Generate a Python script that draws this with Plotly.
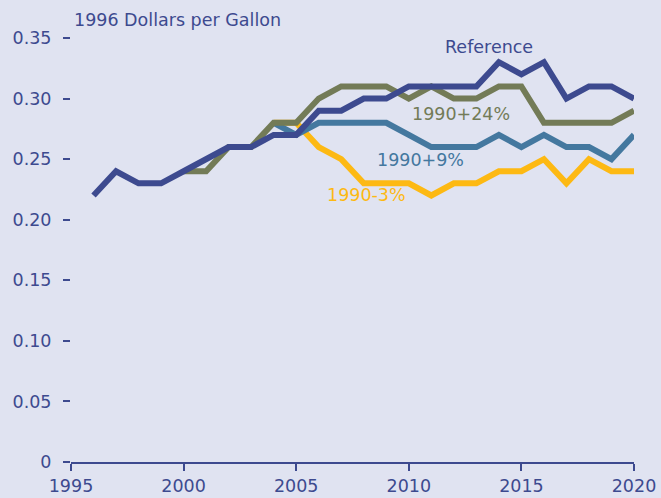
import plotly.graph_objects as go

ref_years = list(range(1996, 2021))
ref_vals = [0.22, 0.24, 0.23, 0.23, 0.24, 0.25, 0.26, 0.26, 0.27, 0.27, 0.29, 0.29, 0.30,
            0.30, 0.31, 0.31, 0.31, 0.31, 0.33, 0.32, 0.33, 0.30, 0.31, 0.31, 0.30]

p24_years = list(range(2000, 2021))
p24_vals = [0.24, 0.24, 0.26, 0.26, 0.28, 0.28, 0.30, 0.31, 0.31, 0.31, 0.30, 0.31, 0.30,
            0.30, 0.31, 0.31, 0.28, 0.28, 0.28, 0.28, 0.29]

p9_years = list(range(2004, 2021))
p9_vals = [0.28, 0.27, 0.28, 0.28, 0.28, 0.28, 0.27, 0.26, 0.26, 0.26, 0.27, 0.26, 0.27,
           0.26, 0.26, 0.25, 0.27]

m3_years = list(range(2004, 2021))
m3_vals = [0.28, 0.28, 0.26, 0.25, 0.23, 0.23, 0.23, 0.22, 0.23, 0.23, 0.24, 0.24, 0.25,
           0.23, 0.25, 0.24, 0.24]

y_ticks = [0, 0.05, 0.10, 0.15, 0.20, 0.25, 0.30, 0.35]
y_ticktext = ["0", "0.05", "0.10", "0.15", "0.20", "0.25", "0.30", "0.35"]
x_ticks = [1995, 2000, 2005, 2010, 2015, 2020]

C_REF = "#3D4A8F"
C_24 = "#737B57"
C_9 = "#44789F"
C_M3 = "#FDB913"
BG = "#E0E3F1"
FONT = "DejaVu Sans, Liberation Sans, Arial, sans-serif"
FS = 17.5

fig = go.Figure()
for xs, ys, c, name in [(m3_years, m3_vals, C_M3, "1990-3%"),
                        (p9_years, p9_vals, C_9, "1990+9%"),
                        (p24_years, p24_vals, C_24, "1990+24%"),
                        (ref_years, ref_vals, C_REF, "Reference")]:
    fig.add_trace(go.Scatter(x=xs, y=ys, mode="lines", name=name,
                             line=dict(color=c, width=6), cliponaxis=False,
                             showlegend=False, hoverinfo="skip"))

labels = [("Reference", 2013.56, 0.3426, C_REF),
          ("1990+24%", 2012.32, 0.2873, C_24),
          ("1990+9%", 2010.52, 0.2489, C_9),
          ("1990-3%", 2008.14, 0.2204, C_M3)]
for t, x, y, c in labels:
    fig.add_annotation(x=x, y=y, text=t, showarrow=False, xanchor="center", yanchor="middle",
                       font=dict(family=FONT, size=FS, color=c))

fig.add_annotation(x=1 / 563, y=(462 - 22) / 424, xref="paper", yref="paper",
                   text="1996 Dollars per Gallon", showarrow=False,
                   xanchor="left", yanchor="middle",
                   font=dict(family=FONT, size=FS, color=C_REF))

fig.update_layout(
    width=661, height=498,
    margin=dict(l=71, r=27, t=36, b=36, autoexpand=False),
    paper_bgcolor=BG, plot_bgcolor=BG,
    font=dict(family=FONT, size=FS, color=C_REF),
    xaxis=dict(range=[1995, 2020], tickvals=x_ticks, ticks="outside", ticklen=7,
               tickcolor=C_REF, tickwidth=1.5, showline=True, linecolor=C_REF, linewidth=1.5,
               showgrid=False, zeroline=False, ticklabelstandoff=0,
               tickfont=dict(family=FONT, size=FS, color=C_REF)),
    yaxis=dict(range=[0, 0.35 * 426 / 424], tickvals=y_ticks, ticktext=y_ticktext,
               ticks="outside", ticklen=7, tickcolor=C_REF, tickwidth=1.5, showline=False,
               showgrid=False, zeroline=False, ticklabelstandoff=8,
               tickfont=dict(family=FONT, size=FS, color=C_REF)),
)

fig.write_html("out.html", config={"displayModeBar": False},
               post_script="document.body.style.margin='0';")
